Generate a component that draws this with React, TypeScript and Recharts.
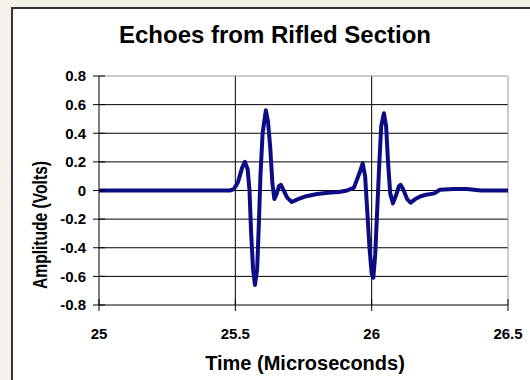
import React from "react";
import { LineChart, Line, XAxis, YAxis, CartesianGrid, ReferenceLine } from "recharts";

const times = [
  25.0, 25.1, 25.2, 25.3, 25.4, 25.48, 25.495, 25.51, 25.525, 25.535, 25.545, 25.552, 25.558, 25.565,
  25.572, 25.58, 25.586, 25.592, 25.6, 25.612, 25.62, 25.628, 25.636, 25.643, 25.652, 25.66, 25.667,
  25.675, 25.69, 25.707, 25.73, 25.76, 25.8, 25.84, 25.88, 25.91, 25.935, 25.955, 25.967, 25.976,
  25.984, 25.992, 26.0, 26.006, 26.013, 26.02, 26.027, 26.035, 26.045, 26.053, 26.06, 26.068, 26.078,
  26.09, 26.1, 26.106, 26.115, 26.13, 26.143, 26.16, 26.18, 26.2, 26.23, 26.25, 26.3, 26.35, 26.4,
  26.45, 26.5,
];
const amplitudes = [
  0, 0, 0, 0, 0, 0, 0.01, 0.06, 0.16, 0.2, 0.15, 0.0, -0.3, -0.55,
  -0.66, -0.55, -0.25, 0.1, 0.4, 0.56, 0.48, 0.3, 0.05, -0.06, -0.02, 0.03, 0.04,
  0.01, -0.05, -0.08, -0.06, -0.04, -0.025, -0.015, -0.01, 0, 0.02, 0.12, 0.19, 0.1,
  -0.15, -0.4, -0.58, -0.61, -0.45, -0.15, 0.15, 0.45, 0.54, 0.45, 0.2, -0.02, -0.09,
  -0.03, 0.03, 0.04, 0.01, -0.06, -0.085, -0.06, -0.04, -0.03, -0.02, 0.005, 0.01, 0.01, 0.0,
  0.0, 0.0,
];
const xTicks = [25, 25.5, 26, 26.5];
const yTicks = [-0.8, -0.6, -0.4, -0.2, 0, 0.2, 0.4, 0.6, 0.8];
const gridY = [-0.6, -0.4, -0.2, 0, 0.2, 0.4, 0.6];
const gridX = [25.5, 26];

const title = "Echoes from Rifled Section";
const xTitle = "Time (Microseconds)";
const yTitle = "Amplitude (Volts)";

const data = times.map((t, i) => ({ t, v: amplitudes[i] }));

const FONT = "'Liberation Sans', Arial, sans-serif";

const YTick = (props: any) => {
  const { x, y, payload } = props;
  return (
    <g>
      <line x1={x + 7} x2={x + 19} y1={y} y2={y} stroke="#000" strokeWidth={1} />
      <text x={x} y={y} dy="0.355em" textAnchor="end" fontFamily={FONT} fontWeight="bold" fontSize={15} fill="#000">
        {String(payload.value)}
      </text>
    </g>
  );
};

const XTick = (props: any) => {
  const { x, y, payload } = props;
  const axisY = y - 17 - 6;
  return (
    <g>
      <line x1={x} x2={x} y1={axisY - 6} y2={axisY + 6} stroke="#000" strokeWidth={1} />
      <text x={x} y={y} dy="0.71em" textAnchor="middle" fontFamily={FONT} fontWeight="bold" fontSize={15} fill="#000">
        {String(payload.value)}
      </text>
    </g>
  );
};

export default function App() {
  return (
    <div style={{ position: "absolute", left: 0, top: 0, width: 530, height: 380, background: "#f4f0ea", overflow: "hidden" }}>
      <div
        style={{
          position: "absolute",
          left: 11,
          top: 7,
          width: 540,
          height: 400,
          background: "#fff",
          borderLeft: "2px solid #333",
          borderTop: "2px solid #333",
        }}
      >
        <LineChart width={517} height={371} data={data} margin={{ top: 67, right: 22, bottom: 45, left: 0 }}>
          <CartesianGrid stroke="#000" strokeWidth={1} horizontalValues={gridY} verticalValues={gridX} />
          <ReferenceLine y={0.8} stroke="#999" strokeWidth={1} />
          <ReferenceLine x={26.5} stroke="#999" strokeWidth={1} />
          <XAxis
            dataKey="t"
            type="number"
            domain={[25, 26.5]}
            ticks={xTicks}
            allowDataOverflow
            height={30}
            tickSize={6}
            tickMargin={17}
            tickLine={false}
            axisLine={{ stroke: "#000" }}
            tick={<XTick />}
            interval={0}
            label={{
              content: () => (
                <text x={292} y={361} textAnchor="middle" fontFamily={FONT} fontWeight="bold" fontSize={20} fill="#000">
                  {xTitle}
                </text>
              ),
            }}
          />
          <YAxis
            type="number"
            domain={[-0.8, 0.8]}
            ticks={yTicks}
            allowDataOverflow
            width={86}
            tickSize={6}
            tickMargin={7}
            tickLine={false}
            axisLine={{ stroke: "#000" }}
            tick={<YTick />}
            interval={0}
            label={{
              content: () => (
                <text
                  x={34}
                  y={216}
                  transform="rotate(-90 34 216)"
                  textAnchor="middle"
                  fontFamily={FONT}
                  fontWeight="bold"
                  fontSize={20}
                  textLength={128}
                  lengthAdjust="spacingAndGlyphs"
                  fill="#000"
                >
                  {yTitle}
                </text>
              ),
            }}
          />
          <Line
            type="linear"
            dataKey="v"
            stroke="#0c0c84"
            strokeWidth={4}
            strokeLinejoin="round"
            strokeLinecap="round"
            dot={false}
            isAnimationActive={false}
          />
          <text x={262} y={34} textAnchor="middle" fontFamily={FONT} fontWeight="bold" fontSize={24} fill="#000">
            {title}
          </text>
        </LineChart>
      </div>
    </div>
  );
}
